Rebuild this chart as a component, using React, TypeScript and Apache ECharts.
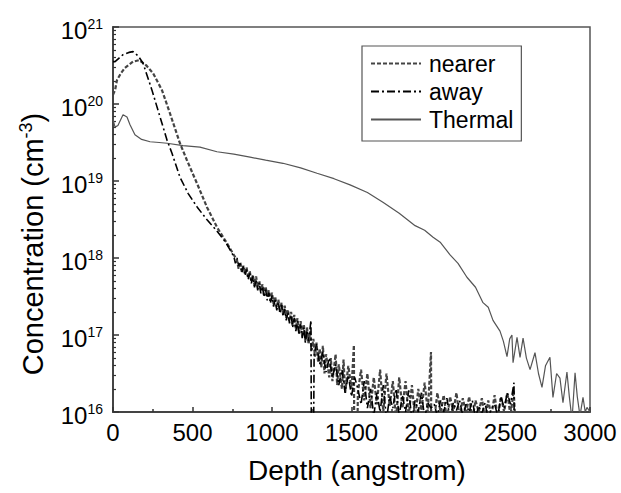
import React, { useEffect, useRef } from "react";
import * as echarts from "echarts";

// Depth (angstrom) axis ticks and log10 decades of concentration (cm^-3)
const xTickInterval = 500;
const xRange = [0, 3000];
const yDecades = [16, 17, 18, 19, 20, 21];
const legendNames = ["nearer", "away", "Thermal"];
const xTitle = "Depth (angstrom)";

// [depth, log10(concentration)]
const nearer: [number, number][] = [
  [0, 20.12], [13, 20.18], [25, 20.31], [50, 20.4], [75, 20.47], [126, 20.55], [165, 20.57], [210, 20.5],
  [252, 20.4], [308, 20.18], [358, 19.88], [421, 19.49], [465, 19.27], [528, 18.97], [591, 18.66], [654, 18.4],
  [717, 18.19], [780, 17.97], [790, 17.86], [800, 17.95], [810, 17.82], [820, 17.9], [830, 17.8], [840, 17.88],
  [850, 17.74], [860, 17.83], [870, 17.7], [880, 17.78], [890, 17.64], [900, 17.76], [910, 17.62], [920, 17.7],
  [930, 17.58], [940, 17.66], [950, 17.52], [960, 17.63], [970, 17.5], [980, 17.58], [990, 17.45], [1000, 17.55],
  [1010, 17.4], [1020, 17.5], [1030, 17.36], [1040, 17.46], [1050, 17.3], [1060, 17.42], [1070, 17.26],
  [1080, 17.38], [1090, 17.22], [1100, 17.33], [1110, 17.18], [1120, 17.3], [1130, 17.12], [1140, 17.26],
  [1150, 17.08], [1160, 17.22], [1170, 17.02], [1180, 17.18], [1190, 16.98], [1200, 17.14], [1210, 16.92],
  [1220, 17.1], [1230, 16.88], [1240, 17.05], [1250, 16.8], [1260, 16.95], [1270, 16.72], [1280, 16.9],
  [1290, 16.65], [1300, 16.82], [1310, 16.58], [1320, 16.86], [1330, 16.5], [1340, 16.75], [1360, 16.45],
  [1370, 16.7], [1380, 16.4], [1400, 16.75], [1410, 16.35], [1420, 16.62], [1440, 16.3], [1450, 16.68],
  [1460, 16.25], [1480, 16.6], [1500, 16.3], [1515, 16.87], [1522, 13], [1540, 16.25], [1560, 16.55],
  [1580, 16.15], [1600, 16.5], [1620, 16.05], [1640, 16.45], [1660, 16.1], [1680, 16.55], [1700, 16.0],
  [1720, 16.5], [1740, 16.08], [1760, 16.4], [1780, 15.9], [1800, 16.45], [1820, 16.05], [1840, 16.4],
  [1860, 15.95], [1880, 16.35], [1900, 15.9], [1920, 16.3], [1940, 16.02], [1960, 16.38], [1980, 16.0],
  [2000, 16.78], [2006, 13], [2020, 15.9], [2040, 16.25], [2060, 16.0], [2080, 16.22], [2100, 15.9],
  [2120, 16.2], [2140, 16.0], [2160, 16.25], [2180, 15.92], [2200, 16.18], [2220, 15.98], [2240, 16.2],
  [2260, 15.9], [2280, 16.15], [2300, 16.0], [2320, 16.18], [2340, 15.9], [2360, 16.15], [2380, 15.95],
  [2400, 16.22], [2420, 15.92], [2440, 16.2], [2460, 16.0], [2480, 16.25], [2500, 15.95], [2520, 16.28],
  [2540, 15.5],
];

const away: [number, number][] = [
  [0, 20.55], [13, 20.55], [40, 20.6], [63, 20.64], [100, 20.67], [126, 20.68], [160, 20.62], [189, 20.53],
  [245, 20.18], [296, 19.83], [340, 19.53], [371, 19.36], [421, 19.05], [472, 18.84], [530, 18.66], [590, 18.5],
  [650, 18.36], [710, 18.2], [760, 18.02], [770, 17.93], [780, 18.0], [790, 17.9], [800, 17.93], [810, 17.81],
  [820, 17.89], [830, 17.77], [840, 17.85], [850, 17.72], [860, 17.8], [870, 17.67], [880, 17.76], [890, 17.62],
  [900, 17.72], [910, 17.58], [920, 17.68], [930, 17.54], [940, 17.63], [950, 17.49], [960, 17.59], [970, 17.45],
  [980, 17.55], [990, 17.41], [1000, 17.51], [1010, 17.37], [1020, 17.47], [1030, 17.32], [1040, 17.43],
  [1050, 17.28], [1060, 17.39], [1070, 17.24], [1080, 17.34], [1090, 17.19], [1100, 17.3], [1110, 17.15],
  [1120, 17.26], [1130, 17.1], [1140, 17.22], [1150, 17.05], [1160, 17.18], [1170, 17.0], [1180, 17.14],
  [1190, 16.96], [1200, 17.1], [1210, 16.9], [1220, 17.06], [1230, 16.92], [1245, 17.19], [1252, 13],
  [1265, 16.75], [1280, 16.88], [1300, 16.62], [1320, 16.78], [1340, 16.52], [1360, 16.7], [1380, 16.45],
  [1400, 16.62], [1420, 16.35], [1440, 16.55], [1460, 16.25], [1480, 16.48], [1500, 16.2], [1520, 16.45],
  [1540, 16.3], [1560, 16.1], [1580, 16.4], [1600, 16.05], [1620, 16.3], [1640, 15.95], [1660, 16.25],
  [1680, 16.0], [1700, 16.35], [1720, 15.9], [1740, 16.2], [1760, 16.05], [1780, 16.3], [1800, 15.95],
  [1820, 16.22], [1840, 16.0], [1860, 16.28], [1880, 15.9], [1900, 16.15], [1920, 16.0], [1940, 16.25],
  [1960, 15.92], [1980, 16.12], [2000, 16.05], [2020, 16.1], [2040, 15.95], [2060, 16.15], [2080, 16.0],
  [2100, 16.18], [2120, 15.9], [2140, 16.12], [2160, 16.02], [2180, 16.15], [2200, 15.95], [2220, 16.1],
  [2240, 16.0], [2260, 16.15], [2280, 15.92], [2300, 16.08], [2320, 15.98], [2340, 16.12], [2360, 15.9],
  [2380, 16.05], [2400, 16.1], [2420, 15.95], [2440, 16.2], [2460, 16.05], [2480, 16.25], [2500, 16.1],
  [2522, 16.38], [2528, 13],
];

const thermal: [number, number][] = [
  [0, 19.8], [13, 19.7], [31, 19.72], [63, 19.86], [88, 19.83], [107, 19.73], [138, 19.6], [180, 19.54],
  [233, 19.51], [290, 19.5], [340, 19.49], [440, 19.46], [547, 19.44], [654, 19.38], [760, 19.35], [862, 19.31],
  [960, 19.27], [1069, 19.23], [1180, 19.17], [1283, 19.1], [1390, 19.03], [1491, 18.95], [1600, 18.85],
  [1700, 18.72], [1800, 18.58], [1900, 18.42], [1960, 18.36], [2013, 18.27], [2060, 18.2], [2120, 18.04],
  [2170, 17.93], [2226, 17.75], [2280, 17.62], [2327, 17.42], [2360, 17.36], [2390, 17.19], [2434, 17.05],
  [2455, 16.92], [2478, 16.72], [2495, 16.95], [2509, 17.0], [2516, 16.64], [2541, 16.97], [2560, 16.71],
  [2579, 16.96], [2600, 16.7], [2623, 16.55], [2654, 16.77], [2676, 16.5], [2698, 16.32], [2720, 16.6],
  [2748, 16.71], [2767, 16.19], [2790, 16.5], [2811, 16.44], [2830, 16.12], [2855, 16.52], [2870, 16.2],
  [2887, 15.9], [2906, 16.51], [2920, 16.2], [2937, 15.95], [2956, 16.19], [2970, 16.0], [2981, 16.06],
  [3000, 16.0],
];

const minorMultipliers = [2, 3, 4, 5, 6, 7, 8, 9];

const FONT = "'Liberation Sans', Arial, Helvetica, sans-serif";

export default function App() {
  const ref = useRef<HTMLDivElement>(null);
  useEffect(() => {
    if (!ref.current) return;
    const chart = echarts.init(ref.current, null, { renderer: "svg" });
    const yMinorTicks: number[] = [];
    yDecades.slice(0, -1).forEach((d) =>
      minorMultipliers.forEach((k) => yMinorTicks.push(d + Math.log10(k)))
    );
    const axisColor = "#444";
    const option: any = {
      animation: false,
      backgroundColor: "#fff",
      grid: {
        left: 113,
        top: 27,
        right: 31,
        bottom: 81,
        show: true,
        borderColor: "#555",
        borderWidth: 1.5,
        backgroundColor: "transparent",
      },
      xAxis: {
        type: "value",
        min: xRange[0],
        max: xRange[1],
        interval: xTickInterval,
        axisLine: { show: true, lineStyle: { color: axisColor, width: 2 } },
        axisTick: { show: true, inside: true, length: 5, lineStyle: { color: "#333", width: 1.5 } },
        minorTick: { show: true, splitNumber: 2, length: 3, lineStyle: { color: "#333", width: 1.5 } },
        axisLabel: {
          fontSize: 24,
          color: "#000",
          margin: 8,
          fontFamily: FONT,
          formatter: (v: number) => String(v),
        },
        splitLine: { show: false },
        minorSplitLine: { show: false },
      },
      yAxis: [
        {
          type: "value",
          min: yDecades[0],
          max: yDecades[yDecades.length - 1],
          interval: 1,
          axisLine: { show: true, lineStyle: { color: axisColor, width: 2 } },
          axisTick: { show: true, inside: true, length: 6, lineStyle: { color: "#333", width: 1.5 } },
          axisLabel: {
            margin: 10,
            padding: [6, 0, 0, 0],
            formatter: (v: number) => `{b|10}{s|${Math.round(v)}}`,
            rich: {
              b: { fontSize: 24, lineHeight: 26, color: "#000", fontFamily: FONT },
              s: { fontSize: 14, lineHeight: 16, color: "#000", fontFamily: FONT, verticalAlign: "top" },
            },
          },
          splitLine: { show: false },
        },
        {
          type: "value",
          position: "left",
          min: yDecades[0],
          max: yDecades[yDecades.length - 1],
          axisLine: { show: false },
          axisLabel: { show: false },
          splitLine: { show: false },
          axisTick: {
            show: true,
            inside: true,
            length: 3,
            customValues: yMinorTicks,
            lineStyle: { color: "#333", width: 1.2 },
          },
        },
      ],
      legend: {
        data: legendNames,
        orient: "vertical",
        left: 362,
        top: 46,
        padding: [6, 8, 10, 8],
        itemGap: 5,
        itemWidth: 50,
        itemHeight: 14,
        borderColor: "#555",
        borderWidth: 1.2,
        backgroundColor: "#fff",
        selectedMode: false,
        itemStyle: { opacity: 0 },
        textStyle: { fontSize: 23, color: "#000", fontFamily: FONT, padding: [0, 0, 0, 3] },
      },
      graphic: [
        {
          type: "text",
          x: 357,
          y: 470,
          style: {
            text: xTitle,
            fontSize: 28,
            fontFamily: FONT,
            fill: "#000",
            align: "center",
            verticalAlign: "middle",
          },
        },
        {
          type: "text",
          x: 33,
          y: 244,
          rotation: Math.PI / 2,
          style: {
            text: "{a|Concentration (cm}{s|-3}{a|)}",
            rich: {
              a: { fontSize: 29, fontFamily: FONT, fill: "#000", color: "#000", lineHeight: 32 },
              s: { fontSize: 18, fontFamily: FONT, fill: "#000", color: "#000", lineHeight: 20, verticalAlign: "top" },
            },
            align: "center",
            verticalAlign: "middle",
          },
        },
      ],
      series: [
        {
          name: "nearer",
          type: "line",
          data: nearer,
          symbol: "none",
          showSymbol: false,
          clip: true,
          z: 3,
          lineStyle: { color: "#444", width: 2.2, type: [4, 2] },
          itemStyle: { color: "#444" },
        },
        {
          name: "away",
          type: "line",
          data: away,
          symbol: "none",
          showSymbol: false,
          clip: true,
          z: 4,
          lineStyle: { color: "#000", width: 1.6, type: [8, 3, 2, 3] },
          itemStyle: { color: "#000" },
        },
        {
          name: "Thermal",
          type: "line",
          data: thermal,
          symbol: "none",
          showSymbol: false,
          clip: true,
          z: 2,
          lineStyle: { color: "#555", width: 1.2 },
          itemStyle: { color: "#555" },
        },
      ],
    };
    chart.setOption(option);
    return () => chart.dispose();
  }, []);
  return (
    <div
      ref={ref}
      style={{ position: "fixed", left: 0, top: 0, width: 621, height: 493, background: "#fff" }}
    />
  );
}
